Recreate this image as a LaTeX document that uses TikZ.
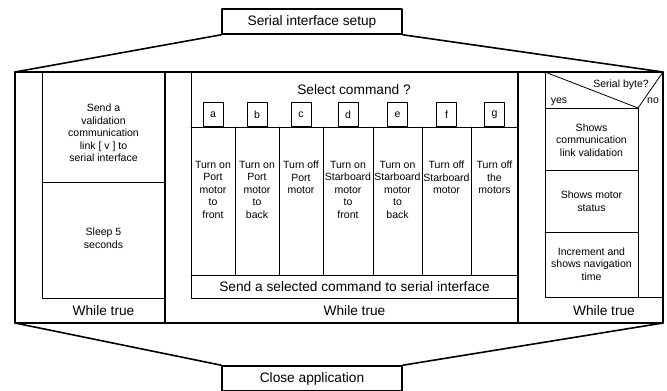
\documentclass[tikz,border=0pt]{standalone}
\usepackage{fontspec}
\setmainfont{Liberation Sans}
\usetikzlibrary{positioning}
\tikzset{
  bigtxt/.style={font=\fontsize{13.7}{16}\selectfont},
  smalltxt/.style={font=\fontsize{10.5}{12.5}\selectfont, align=center, inner sep=1pt},
  thickline/.style={line width=1.6pt},
  thinline/.style={line width=0.8pt},
  stagebox/.style={draw, thickline, minimum width=180, minimum height=25, bigtxt}
}
\begin{document}
\begin{tikzpicture}[x=1pt, y=-1pt, line cap=round, line join=round]
  \useasboundingbox (0,0) rectangle (667,391);
  % start and end of the program
  \node[stagebox] (setup) at (312,21.5) {Serial interface setup};
  \node[stagebox] (close) at (312,378.5) {Close application};
  \coordinate (frameNW) at (15,72);
  \coordinate (frameNE) at (663,72);
  \coordinate (frameSW) at (15,323);
  \coordinate (frameSE) at (663,323);
  \draw[thickline] (frameNW) rectangle (frameSE);
  \draw[thickline] (setup.south west) -- (frameNW);
  \draw[thickline] (setup.south east) -- (frameNE);
  \draw[thickline] (close.north west) -- (frameSW);
  \draw[thickline] (close.north east) -- (frameSE);
  \draw[thickline] (165,72) -- (165,323);
  \draw[thickline] (518,72) -- (518,323);
  % left loop
  \draw[thinline] (42,72) -- (42,298) -- (165,298);
  \draw[thinline] (42,182) -- (165,182);
  \node[smalltxt] (sendv) at (103.5,133) {Send a\\validation\\communication\\link [ v ] to\\serial interface};
  \node[smalltxt] (sleep) at (103.5,238) {Sleep 5\\seconds};
  \node[bigtxt] (whileL) at (103.5,310.5) {While true};
  % middle loop
  \draw[thinline] (191,72) -- (191,298) -- (518,298);
  \draw[thinline] (191,127) -- (518,127);
  \draw[thinline] (191,275) -- (518,275);
  \foreach \x in {235,279,323,373,422,471}
    \draw[thinline] (\x,127) -- (\x,275);
  \node[bigtxt] (select) at (354,90) {Select command ?};
  \foreach \x/\l/\txt in {213/a/{Turn on\\Port\\motor\\to\\front},
                          257/b/{Turn on\\Port\\motor\\to\\back},
                          301/c/{Turn off\\Port\\motor},
                          348/d/{Turn on\\Starboard\\motor\\to\\front},
                          397.5/e/{Turn on\\Starboard\\motor\\to\\back},
                          446.5/f/{Turn off\\Starboard\\motor},
                          494.5/g/{Turn off\\the\\motors}}{
    \node[draw, thinline, minimum width=20, minimum height=24, anchor=south,
          font=\fontsize{10.5}{12.5}\selectfont] (key\l) at (\x,127) {\l};
    \node[smalltxt, anchor=north] (cmd\l) at (\x,160) {\txt};
  }
  \node[bigtxt] (sendcmd) at (354.5,286.5) {Send a selected command to serial interface};
  \node[bigtxt] (whileM) at (354.5,310.5) {While true};
  % right loop
  \draw[thinline] (545,72) -- (545,297) -- (663,297);
  \draw[thinline] (545,72) -- (638,108) -- (663,72);
  \draw[thinline] (545,108) -- (638,108) -- (638,297);
  \draw[thinline] (545,170) -- (638,170);
  \draw[thinline] (545,232) -- (638,232);
  \node[smalltxt] (byte) at (621,85) {Serial byte?};
  \node[smalltxt] (yes) at (559,102) {yes};
  \node[smalltxt] (no) at (653,101) {no};
  \node[smalltxt] (showlink) at (591.5,140) {Shows\\communication\\link validation};
  \node[smalltxt] (showmotor) at (591.5,201) {Shows motor\\status};
  \node[smalltxt] (showtime) at (591.5,264) {Increment and\\shows navigation\\time};
  \node[bigtxt] (whileR) at (604,310.5) {While true};
\end{tikzpicture}
\end{document}
